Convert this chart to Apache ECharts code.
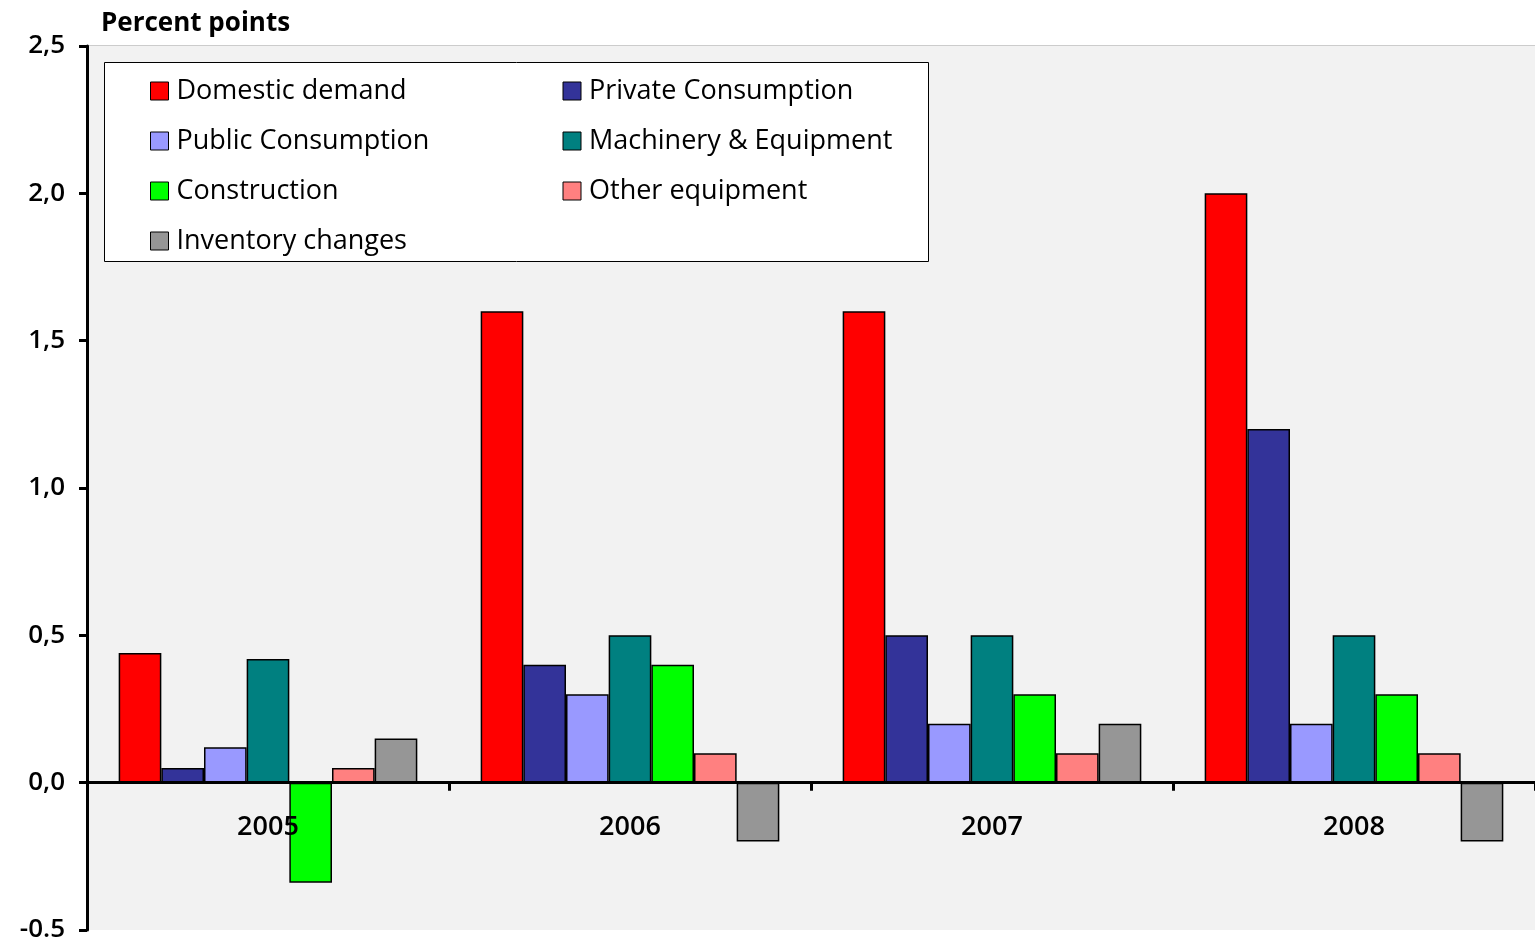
<!DOCTYPE html>
<html>
<head>
<meta charset="utf-8">
<script src="https://cdn.jsdelivr.net/npm/echarts@6/dist/echarts.min.js"></script>
<style>html,body{margin:0;padding:0;background:#fff}#chart{width:1535px;height:942px}</style>
</head>
<body>
<div id="chart"></div>
<script>
// categories and series values
const years = ['2005', '2006', '2007', '2008'];
const seriesNames = ['Domestic demand', 'Private Consumption', 'Public Consumption', 'Machinery & Equipment', 'Construction', 'Other equipment', 'Inventory changes'];
const seriesColors = ['#ff0000', '#333399', '#9999ff', '#008080', '#00ff00', '#ff8080', '#969696'];
const domestic = [0.44, 1.6, 1.6, 2.0];
const privateCons = [0.05, 0.4, 0.5, 1.2];
const publicCons = [0.12, 0.3, 0.2, 0.2];
const machinery = [0.42, 0.5, 0.5, 0.5];
const construction = [-0.34, 0.4, 0.3, 0.3];
const otherEquip = [0.05, 0.1, 0.1, 0.1];
const inventory = [0.15, -0.2, 0.2, -0.2];
const allValues = [domestic, privateCons, publicCons, machinery, construction, otherEquip, inventory];

const chart = echarts.init(document.getElementById('chart'));
const font = 'Open Sans';

chart.setOption({
    animation: false,
    textStyle: {fontFamily: font},
    title: {
        text: 'Percent points',
        left: 96, top: 6,
        textStyle: {fontSize: 26, fontWeight: 'bold', color: '#000', fontFamily: font}
    },
    legend: {
        left: 104, top: 62, width: 824, height: 200,
        orient: 'horizontal',
        padding: [12, 0, 0, 46],
        icon: 'rect',
        itemWidth: 18, itemHeight: 18, itemGap: 16,
        textStyle: {fontSize: 27, color: '#000', width: 370, padding: [0, 0, 0, 3], lineHeight: 34},
        itemStyle: {borderColor: '#000', borderWidth: 1},
        data: seriesNames
    },
    grid: {left: 87, right: 0, top: 46, bottom: 12, outerBoundsMode: 'none', containLabel: false},
    xAxis: {
        type: 'category',
        data: years,
        z: 5,
        axisLine: {onZero: true, lineStyle: {color: '#000', width: 3}},
        axisTick: {show: true, alignWithLabel: false, length: 8, lineStyle: {color: '#000', width: 3}},
        axisLabel: {fontSize: 27, color: '#000', fontWeight: 600, margin: -116},
        splitLine: {show: false}
    },
    yAxis: {
        type: 'value', min: -0.5, max: 2.5, interval: 0.5,
        axisLine: {show: true, lineStyle: {color: '#000', width: 3}},
        axisTick: {show: true, length: 8, lineStyle: {color: '#000', width: 3}},
        axisLabel: {
            fontSize: 26, color: '#000', fontWeight: 600, margin: 22,
            formatter: v => v < 0 ? v.toFixed(1) : v.toFixed(1).replace('.', ',')
        },
        splitLine: {show: false},
        splitArea: {show: true, areaStyle: {color: ['#f2f2f2']}}
    },
    graphic: [{
        type: 'line', shape: {x1: 87, y1: 46, x2: 1535, y2: 46},
        style: {stroke: '#999', lineWidth: 1}
    }, {
        type: 'rect', z: 3, shape: {x: 104.5, y: 62.5, width: 824, height: 199},
        style: {fill: '#fff', stroke: '#000', lineWidth: 1}
    }],
    series: seriesNames.map((name, i) => ({
        name: name,
        type: 'bar',
        data: allValues[i],
        barGap: '0%',
        barCategoryGap: '17.5%',
        itemStyle: {color: seriesColors[i], borderColor: '#000', borderWidth: 1.5}
    }))
});
</script>
</body>
</html>
